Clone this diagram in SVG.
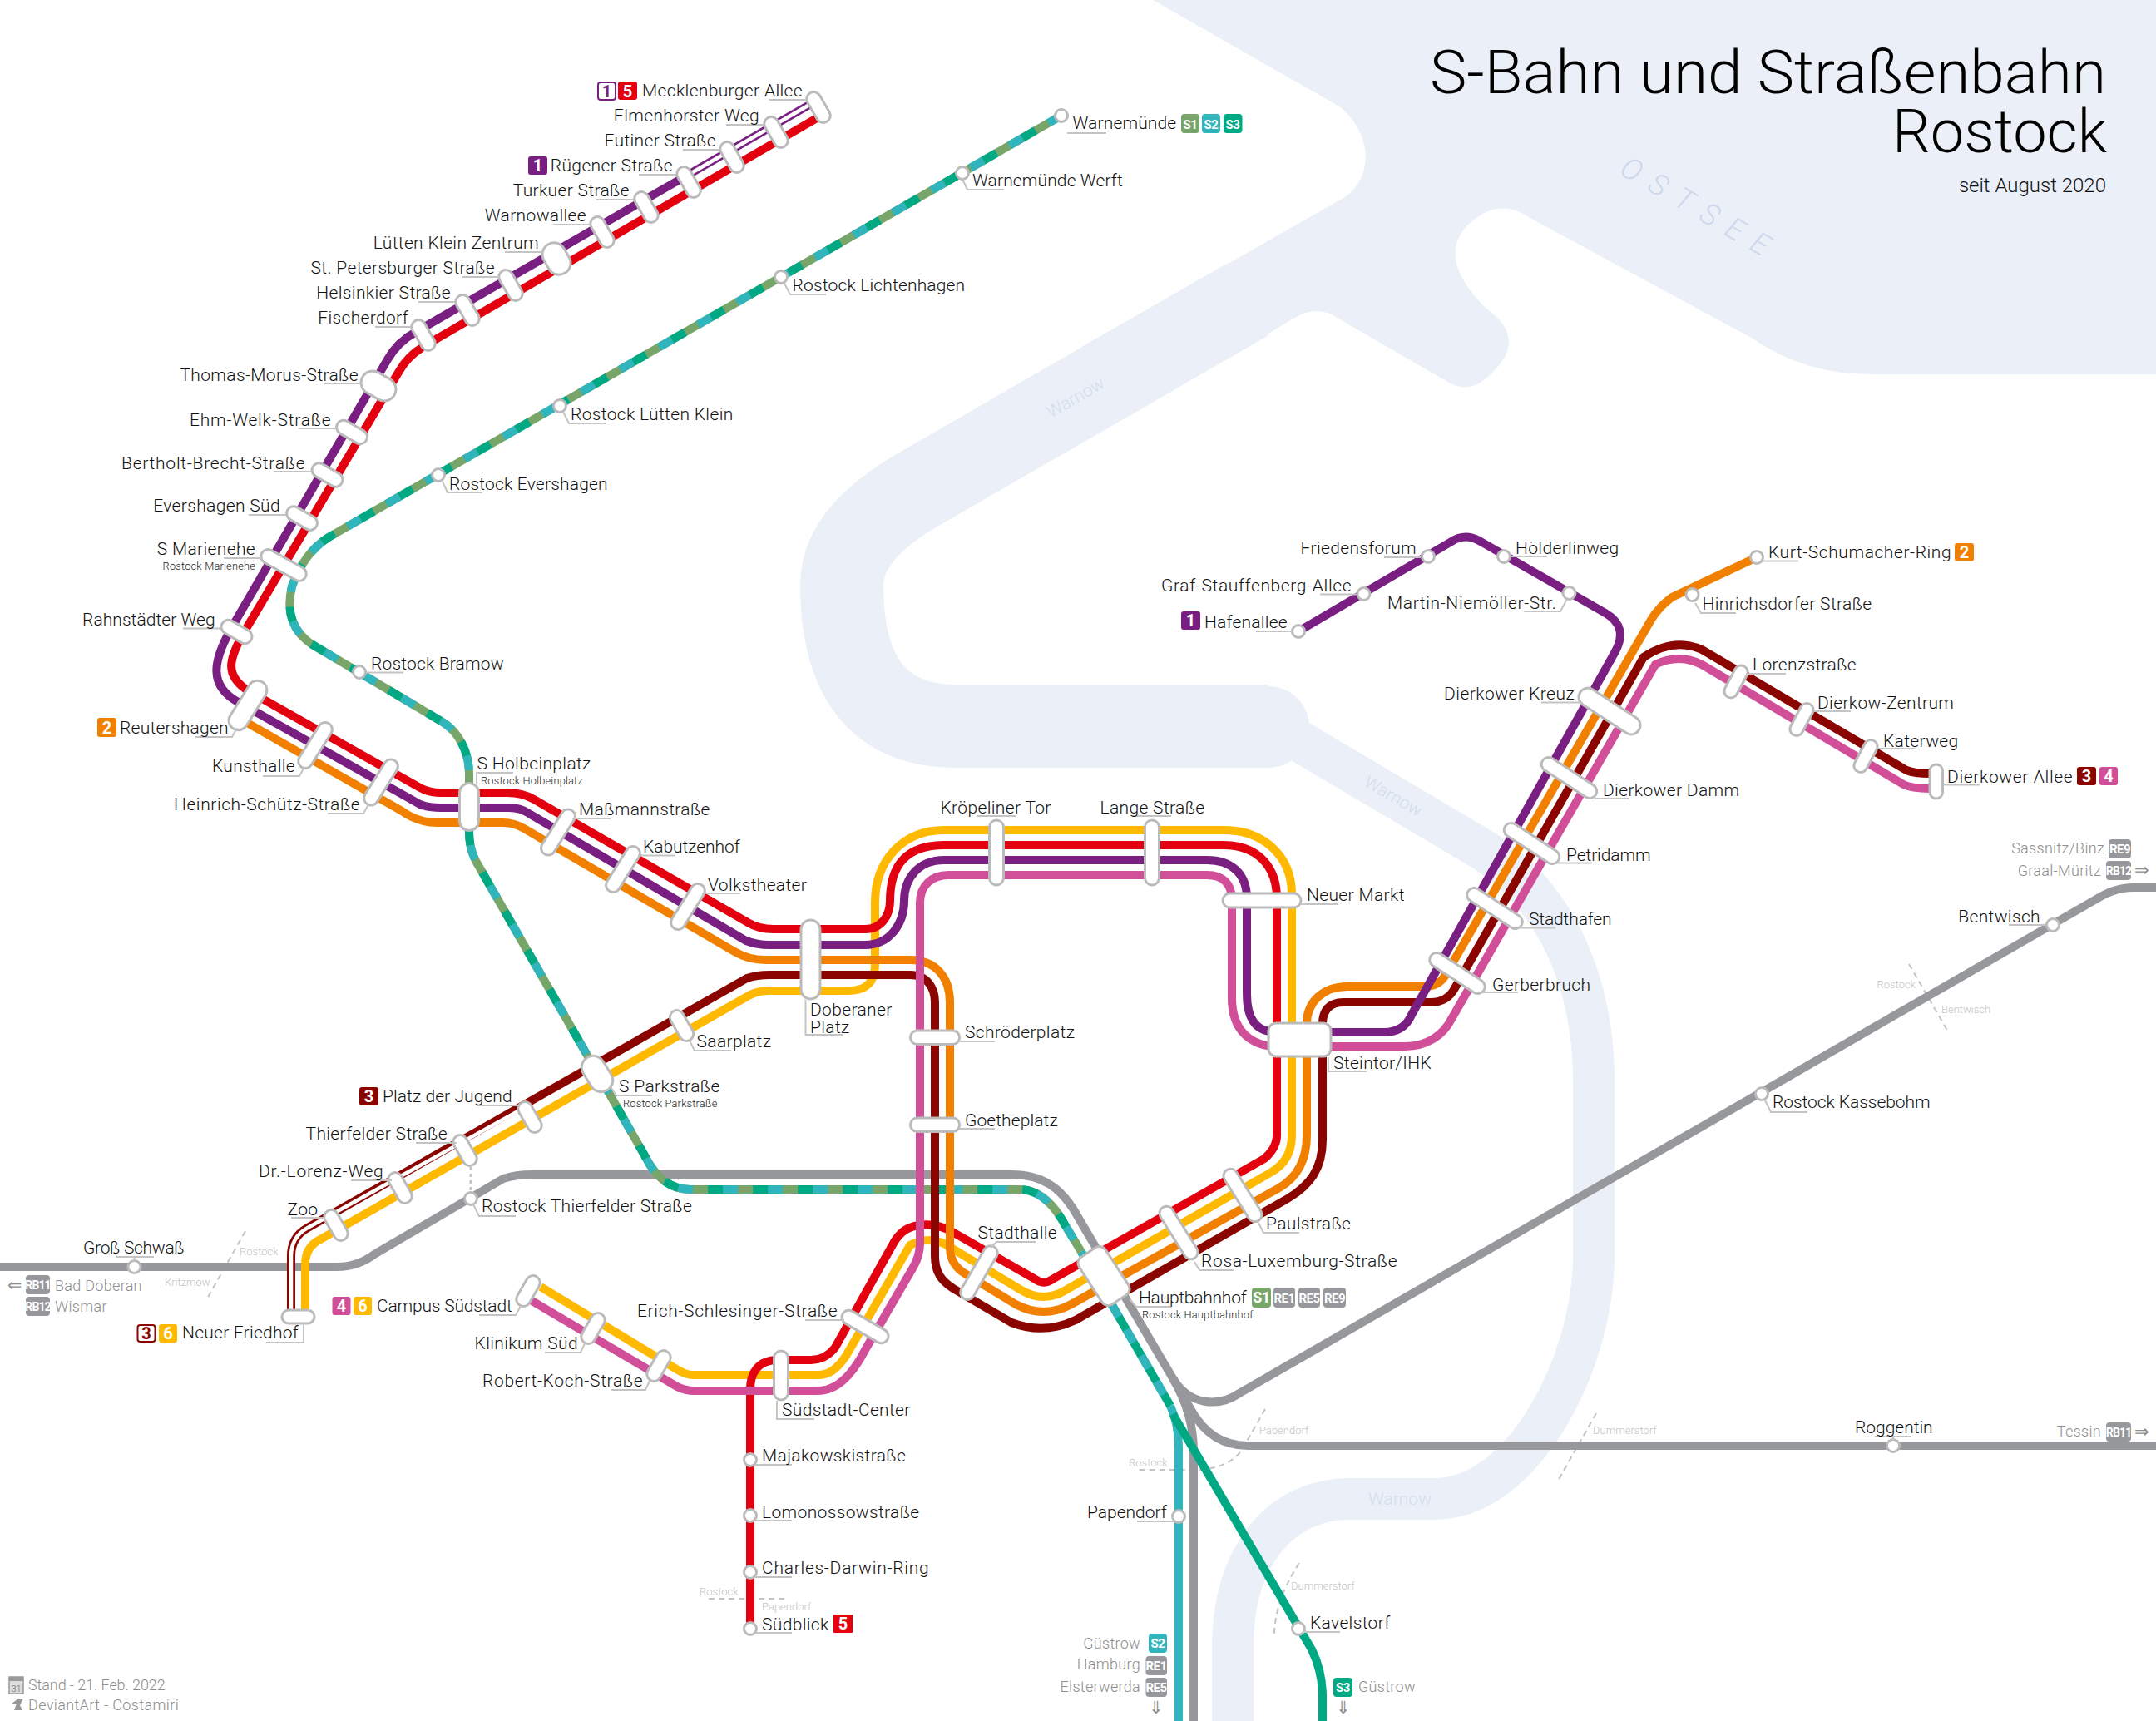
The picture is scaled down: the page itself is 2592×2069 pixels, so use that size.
<svg xmlns="http://www.w3.org/2000/svg" width="2592" height="2069" viewBox="0 0 2592 2069">
<style>
text{font-family:Roboto,"Liberation Sans",sans-serif;font-weight:300}
.t{font-size:21px;fill:#111;letter-spacing:.35px}
.e{text-anchor:end}
.r{font-size:12.8px;fill:#222;letter-spacing:.2px}
.d{font-size:18px;fill:#8d8d8d;letter-spacing:.3px}
.h{font-size:13px;fill:#c4c4c4}
.b{font-size:20px;font-weight:700;fill:#fff;text-anchor:middle}
.bs{font-size:15px;font-weight:700;fill:#fff;text-anchor:middle;letter-spacing:-.5px}
.rb{font-size:14px;letter-spacing:-.9px}
.w{fill:#d3dcee;font-size:21px}
.a{font-family:"DejaVu Sans",sans-serif;font-size:21px;fill:#8d8d8d;text-anchor:middle}
.s{fill:#fff;stroke:#bbb;stroke-width:3}
.c{fill:#fff;stroke:#bbb;stroke-width:3}
.l{fill:none;stroke:#c4c4c4;stroke-width:2}
.li{fill:none;stroke-width:10}
.bd{fill:none;stroke:#c4c4c4;stroke-width:2;stroke-dasharray:7 5}
.gr{stroke:#97989c}.s1{stroke:#78a66a}.s2{stroke:#2fb5bb}.s3{stroke:#00a984}
.ye{stroke:#ffb900}.re{stroke:#e3000f}.or{stroke:#f28000}.dk{stroke:#8b0500}.pu{stroke:#7a1f82}.pk{stroke:#d14e99}
.fpu{fill:#7a1f82}.fre{fill:#e3000f}.for{fill:#f28000}.fdk{fill:#8b0500}.fye{fill:#ffb900}.fpk{fill:#d14e99}.fgr{fill:#97989c}.fs1{fill:#78a66a}.fs2{fill:#2fb5bb}.fs3{fill:#00a984}
</style>
<rect width="2592" height="2069" fill="#fff"/>
<g id="water">
<path fill="#ebf0f8" d="M1386,0 L1610,128 C1650,160 1652,212 1617,237 L1300,417 L1358,500 L1555,383 Q1584,365 1609,383 L1737,457 Q1765,476 1790,452 C1825,420 1820,395 1786,370 C1745,330 1735,290 1775,262 Q1805,240 1836,260 L2107,407 Q2170,450 2247,450 L2592,450 L2592,0 Z"/>
<path fill="none" stroke="#ebf0f8" stroke-width="100" d="M1500,360 L1110,585 Q1012,640 1012,703 Q1012,873 1150,873 L1525,873"/>
<circle cx="1525" cy="874" r="49" fill="#ebf0f8"/>
<path fill="none" stroke="#ebf0f8" stroke-width="50" d="M1540,878 L1780,1020 C1870,1075 1916,1180 1916,1300 L1916,1510 C1916,1640 1830,1802 1725,1802 L1623,1802 C1540,1802 1482,1870 1482,1980 L1482,2069"/>
<text class="w" transform="translate(1293,478) rotate(-30)" text-anchor="middle" dy="7">Warnow</text>
<text class="w" transform="translate(1675,957) rotate(30)" text-anchor="middle" dy="7">Warnow</text>
<text class="w" x="1683" y="1809" text-anchor="middle">Warnow</text>
<text transform="translate(2045,251) rotate(30)" text-anchor="middle" dy="13" style="font-size:36px;fill:#cdd8ec;letter-spacing:15px;font-style:italic">OSTSEE</text>
</g>
<g id="borders">
<path class="bd" d="M295,1480 L248,1563"/>
<path class="bd" d="M852,1922 L948,1922"/>
<path class="bd" d="M2295,1159 L2343,1242"/>
<path class="bd" d="M1521,1694 L1493,1743 Q1478,1765 1440,1767 L1368,1767"/>
<path class="bd" d="M1919,1699 L1872,1782"/>
<path class="bd" d="M1562,1879 Q1532,1925 1532,1967"/>
<text class="h" x="288" y="1509">Rostock</text>
<text class="h" x="198" y="1546">Kritzmow</text>
<text class="h" x="841" y="1918">Rostock</text>
<text class="h" x="916" y="1936">Papendorf</text>
<text class="h" x="2303" y="1188" text-anchor="end">Rostock</text>
<text class="h" x="2334" y="1218">Bentwisch</text>
<text class="h" x="1514" y="1724">Papendorf</text>
<text class="h" x="1357" y="1763">Rostock</text>
<text class="h" x="1915" y="1724">Dummerstorf</text>
<text class="h" x="1552" y="1911">Dummerstorf</text>
</g>
<g id="connectors">
<g id="regional">
<path class="li gr" d="M0,1523 L405,1523 Q430,1523 450,1508 L605,1417 Q620,1412 640,1412 L1216,1412 C1255,1412 1275,1430 1290,1453 L1410,1657"/>
<path class="li gr" d="M1410,1657 C1430,1690 1465,1692 1490,1675 L2527,1077 Q2545,1067 2565,1067 L2592,1067"/>
<path class="li gr" d="M1410,1657 L1432,1695 Q1456,1738 1500,1738 L2592,1738"/>
<path class="li gr" d="M1410,1657 Q1435,1700 1435,1745 L1435,2069"/>
</g>
<g id="sbahn">
<path class="li s2" d="M1407,1690 Q1417,1712 1417,1740 L1417,2069"/>
<path class="li s3" d="M1410,1700 L1577,1983 Q1590,2010 1590,2040 L1590,2069"/>
<path class="li s3" d="M1300,1505 L1407,1690"/>
<path class="li s2" stroke-dasharray="18 18" d="M1300,1505 L1407,1690"/>
<path class="li s1" d="M1276,139 L395,646 Q365,665 351,705 Q340,750 374,774 L532,868 C552,880 564,905 564,930 L564,1000 Q564,1020 572,1035 L775,1389 Q795,1430 830,1430 L1226,1430 C1250,1430 1268,1450 1280,1472 L1300,1505"/>
<path class="li s2" stroke-dasharray="18 36" d="M1276,139 L395,646 Q365,665 351,705 Q340,750 374,774 L532,868 C552,880 564,905 564,930 L564,1000 Q564,1020 572,1035 L775,1389 Q795,1430 830,1430 L1226,1430 C1250,1430 1268,1450 1280,1472 L1300,1505"/>
<path class="li s3" stroke-dasharray="18 36" stroke-dashoffset="18" d="M1276,139 L395,646 Q365,665 351,705 Q340,750 374,774 L532,868 C552,880 564,905 564,930 L564,1000 Q564,1020 572,1035 L775,1389 Q795,1430 830,1430 L1226,1430 C1250,1430 1268,1450 1280,1472 L1300,1505"/>
</g>
<g id="tram">
<path id="line6" class="li ye" d="M367,1575 L367,1520 Q367,1499 385,1490 L902,1196 Q912,1191 925,1191 L1020,1191 Q1052,1191 1052,1160 L1052,1085 C1052,1035 1085,998 1135,998 L1471,998 C1520,998 1553,1030 1553,1075 L1553,1365 C1553,1385 1545,1400 1527,1410 L1283,1550 Q1255,1568 1226,1550 L1135,1495 Q1115,1486 1094,1497 L1017,1630 C1005,1648 995,1653 983,1653 L833,1653 Q825,1653 815,1647 L650,1547"/>
<path id="line5" class="li re" d="M982,142 L510,416 Q490,428 480,446 L297,754 C272,795 272,812 296,829 L505,947 Q516,953 530,953 L610,953 Q628,953 642,961 L899,1109 Q912,1117 930,1117 L1040,1117 C1060,1117 1070,1100 1070,1083 C1070,1040 1090,1016 1135,1016 L1471,1016 C1510,1016 1535,1040 1535,1080 L1535,1365 Q1535,1380 1520,1393 L1267,1537 Q1255,1546 1243,1537 L1145,1481 Q1125,1470 1105,1473 C1090,1475 1082,1482 1075,1493 L1004,1620 Q992,1635 975,1635 L935,1635 C912,1635 902,1650 902,1670 L902,1958"/>
<path id="line3" class="li dk" d="M350,1575 L350,1510 Q350,1487 370,1476 L898,1176 Q910,1172 925,1172 L1094,1172 C1115,1172 1124,1188 1124,1205 L1124,1510 C1124,1530 1132,1540 1146,1549 L1216,1590 Q1255,1605 1293,1587 L1548,1441 C1575,1425 1590,1405 1590,1370 L1590,1231 C1590,1215 1598,1205 1615,1205 L1720,1205 Q1740,1205 1749,1188 L1976,790 Q2012,766 2046,781 L2292,926 Q2302,930 2320,930"/>
<path id="line2" class="li or" d="M299,870 L483,975 Q503,989 525,989 L605,989 Q618,989 630,996 L883,1144 Q900,1154 920,1154 L1094,1154 C1125,1154 1142,1175 1142,1205 L1142,1500 Q1142,1520 1160,1531 L1221,1568 Q1255,1586 1288,1568 L1538,1428 C1560,1415 1571,1395 1571,1365 L1571,1231 C1571,1205 1590,1186 1620,1186 L1712,1186 Q1730,1186 1738,1172 L1985,745 Q1994,730 2010,718 L2112,670"/>
<path id="line4" class="li pk" d="M638,1563 L814,1667 Q824,1672 835,1672 L983,1672 Q1015,1672 1040,1623 L1097,1525 Q1106,1510 1106,1495 L1106,1085 C1106,1065 1120,1052 1140,1052 L1451,1052 C1470,1052 1481,1062 1481,1082 L1481,1200 C1481,1240 1505,1258 1535,1258 L1689,1258 C1715,1258 1735,1245 1745,1225 L1990,799 Q2018,785 2046,799 L2285,941 Q2295,948 2320,948"/>
<path id="line1" class="li pu" d="M973,126 L500,399 Q478,411 466,432 L280,752 C255,795 250,825 288,845 L505,967 Q515,971 530,971 L612,971 Q626,971 636,978 L897,1131 Q910,1136 925,1136 L1040,1136 C1070,1136 1087,1110 1087,1083 C1087,1055 1105,1034 1135,1034 L1451,1034 C1480,1034 1499,1050 1499,1080 L1499,1195 C1499,1225 1510,1241 1535,1241 L1664,1241 Q1688,1241 1697,1220 L1941,785 Q1959,754 1930,737 L1780,651 Q1762,640 1745,651 L1561,759"/>
<path stroke="#fff" stroke-width="4.5" fill="none" d="M973,126 L819,215"/>
<path stroke="#fff" stroke-width="4.5" fill="none" d="M350,1575 L350,1510 Q350,1487 370,1476 L628,1333"/>
</g>
<path id="link-thierfelder" fill="none" stroke="#c4c4c4" stroke-width="3" stroke-dasharray="4 4" d="M566,1403 L566,1432"/>
</g>
<g id="mecklenburger-allee"><rect class="s" x="-20" y="-8.5" width="40" height="17" rx="8.5" transform="translate(984 129) rotate(60)"/><path class="l" d="M925,120 H971"/><rect x="719" y="99" width="21" height="21" rx="3" fill="#fff" stroke="#7a1f82" stroke-width="2"/><text class="b" x="729.5" y="116.500" style="fill:#7a1f82">1</text><rect x="743" y="98" width="23" height="22" rx="3" class="fre"/><text class="b" x="754.5" y="116.500">5</text><text class="t e" x="965" y="116">Mecklenburger Allee</text></g>
<g id="elmenhorster-weg"><rect class="s" x="-20" y="-8.5" width="40" height="17" rx="8.5" transform="translate(933 159) rotate(60)"/><path class="l" d="M873,150 H918"/><text class="t e" x="913" y="146">Elmenhorster Weg</text></g>
<g id="eutiner-strasse"><rect class="s" x="-20" y="-8.5" width="40" height="17" rx="8.5" transform="translate(880 189) rotate(60)"/><path class="l" d="M821,180 H865"/><text class="t e" x="861" y="176">Eutiner Straße</text></g>
<g id="ruegener-strasse"><rect class="s" x="-20" y="-8.5" width="40" height="17" rx="8.5" transform="translate(828 219) rotate(60)"/><path class="l" d="M768,210 H813"/><rect x="635" y="188" width="23" height="22" rx="3" class="fpu"/><text class="b" x="646.5" y="206">1</text><text class="t e" x="809" y="206">Rügener Straße</text></g>
<g id="turkuer-strasse"><rect class="s" x="-20" y="-8.5" width="40" height="17" rx="8.5" transform="translate(777 249) rotate(60)"/><path class="l" d="M717,240 H762"/><text class="t e" x="757" y="236">Turkuer Straße</text></g>
<g id="warnowallee"><rect class="s" x="-20" y="-8.5" width="40" height="17" rx="8.5" transform="translate(724 279) rotate(60)"/><path class="l" d="M665,270 H710"/><text class="t e" x="705" y="266">Warnowallee</text></g>
<g id="luetten-klein-zentrum"><rect class="s" x="-20" y="-14" width="40" height="28" rx="14" transform="translate(669 311) rotate(60)"/><path class="l" d="M607,303 H653"/><text class="t e" x="648" y="299">Lütten Klein Zentrum</text></g>
<g id="st-petersburger-strasse"><rect class="s" x="-20" y="-8.5" width="40" height="17" rx="8.5" transform="translate(614 343) rotate(60)"/><path class="l" d="M555,333 H600"/><text class="t e" x="595" y="329">St. Petersburger Straße</text></g>
<g id="helsinkier-strasse"><rect class="s" x="-20" y="-8.5" width="40" height="17" rx="8.5" transform="translate(562 373) rotate(60)"/><path class="l" d="M503,363 H547"/><text class="t e" x="542" y="359">Helsinkier Straße</text></g>
<g id="fischerdorf"><rect class="s" x="-20" y="-8.5" width="40" height="17" rx="8.5" transform="translate(509 403) rotate(60)"/><path class="l" d="M451,393 H495"/><text class="t e" x="491" y="389">Fischerdorf</text></g>
<g id="thomas-morus-strasse"><rect class="s" x="-22" y="-14" width="44" height="28" rx="14" transform="translate(455 464) rotate(30)"/><path class="l" d="M390,461 H435"/><text class="t e" x="431" y="458">Thomas-Morus-Straße</text></g>
<g id="ehm-welk-strasse"><rect class="s" x="-20" y="-8.5" width="40" height="17" rx="8.5" transform="translate(423 519.500) rotate(30)"/><path class="l" d="M359,515 H404"/><text class="t" x="228" y="512" textLength="170">Ehm-Welk-Straße</text></g>
<g id="bertholt-brecht-strasse"><rect class="s" x="-20" y="-8.5" width="40" height="17" rx="8.5" transform="translate(393.500 571) rotate(30)"/><path class="l" d="M329,567 H374"/><text class="t" x="146" y="563.500" textLength="221">Bertholt-Brecht-Straße</text></g>
<g id="evershagen-sued"><rect class="s" x="-20" y="-8.5" width="40" height="17" rx="8.5" transform="translate(363 623) rotate(30)"/><path class="l" d="M299,619 H344"/><text class="t e" x="337" y="615">Evershagen Süd</text></g>
<g id="s-marienehe"><rect class="s" x="-30" y="-8.5" width="60" height="17" rx="8.5" transform="translate(341 679.500) rotate(29)"/><path class="l" d="M269,671 H316"/><text class="t e" x="307" y="667">S Marienehe</text><text class="r e" x="307" y="685">Rostock Marienehe</text></g>
<g id="rahnstaedter-weg"><rect class="s" x="-20" y="-8.5" width="40" height="17" rx="8.5" transform="translate(284.500 759.500) rotate(30)"/><path class="l" d="M220,755.500 H265"/><text class="t" x="99" y="752" textLength="160">Rahnstädter Weg</text></g>
<g id="reutershagen"><rect class="s" x="-33" y="-11.500" width="66" height="23" rx="11.500" transform="translate(298 848) rotate(-58)"/><path class="l" d="M235,886 H279 L285,875"/><rect x="117" y="863" width="23" height="23" rx="3" class="for"/><text class="b" x="128.500" y="881.500">2</text><text class="t" x="144" y="882" textLength="131">Reutershagen</text></g>
<g id="kunsthalle"><rect class="s" x="-31" y="-8.5" width="62" height="17" rx="8.5" transform="translate(379 896) rotate(-58)"/><path class="l" d="M316,933 H360 L366,922"/><text class="t e" x="355" y="928">Kunsthalle</text></g>
<g id="heinrich-schuetz-strasse"><rect class="s" x="-31" y="-8.5" width="62" height="17" rx="8.5" transform="translate(458 940.500) rotate(-58)"/><path class="l" d="M394,978 H437 L443,967"/><text class="t" x="209" y="974" textLength="224">Heinrich-Schütz-Straße</text></g>
<g id="s-holbeinplatz"><rect class="s" x="-11.500" y="-28.500" width="23" height="57" rx="11.500" transform="translate(564 970)"/><path class="l" d="M617,929 H573 V942"/><text class="t" x="573.500" y="925">S Holbeinplatz</text><text class="r" x="578" y="943">Rostock Holbeinplatz</text></g>
<g id="massmannstrasse"><rect class="s" x="-31" y="-8.5" width="62" height="17" rx="8.5" transform="translate(671 1000.500) rotate(-58)"/><path class="l" d="M734,984 H688"/><text class="t" x="696" y="980">Maßmannstraße</text></g>
<g id="kabutzenhof"><rect class="s" x="-31" y="-8.5" width="62" height="17" rx="8.5" transform="translate(749 1045) rotate(-58)"/><path class="l" d="M812,1028.500 H767"/><text class="t" x="773" y="1025" textLength="117">Kabutzenhof</text></g>
<g id="volkstheater"><rect class="s" x="-31" y="-8.5" width="62" height="17" rx="8.5" transform="translate(827 1090) rotate(-58)"/><path class="l" d="M890,1074 H844"/><text class="t" x="851" y="1070.500">Volkstheater</text></g>
<g id="doberaner-platz"><rect class="s" x="963" y="1106" width="23" height="95" rx="11.500"/><path class="l" d="M968.500,1202 V1244 H1013"/><text class="t" x="974" y="1220.500">Doberaner</text><text class="t" x="974" y="1241.500">Platz</text></g>
<g id="saarplatz"><rect class="s" x="-20" y="-8.5" width="40" height="17" rx="8.5" transform="translate(819.500 1233) rotate(60)"/><path class="l" d="M879,1263 H835 L829,1251"/><text class="t" x="837.500" y="1259">Saarplatz</text></g>
<g id="s-parkstrasse"><rect class="s" x="-23" y="-14" width="46" height="28" rx="14" transform="translate(718 1291) rotate(58)"/><path class="l" d="M784,1317 H741 L733,1305"/><text class="t" x="744" y="1313">S Parkstraße</text><text class="r" x="749" y="1331">Rostock Parkstraße</text></g>
<g id="platz-der-jugend"><rect class="s" x="-20" y="-8.5" width="40" height="17" rx="8.5" transform="translate(637 1343) rotate(60)"/><path class="l" d="M573,1329 H623"/><rect x="432" y="1307" width="23" height="22" rx="3" class="fdk"/><text class="b" x="443.500" y="1325">3</text><text class="t" x="460" y="1325" textLength="156">Platz der Jugend</text></g>
<g id="thierfelder-strasse"><rect class="s" x="-20" y="-8.5" width="40" height="17" rx="8.5" transform="translate(559 1383) rotate(60)"/><path class="l" d="M500,1374 H549"/><text class="t e" x="538" y="1370">Thierfelder Straße</text></g>
<g id="dr-lorenz-weg"><rect class="s" x="-20" y="-8.5" width="40" height="17" rx="8.5" transform="translate(481 1428) rotate(60)"/><path class="l" d="M422,1419 H471"/><text class="t" x="311" y="1415" textLength="150">Dr.-Lorenz-Weg</text></g>
<g id="zoo"><rect class="s" x="-20" y="-8.5" width="40" height="17" rx="8.5" transform="translate(404 1473) rotate(60)"/><path class="l" d="M350,1464 H391"/><text class="t e" x="382.500" y="1461">Zoo</text></g>
<g id="neuer-friedhof"><rect class="s" x="339" y="1575" width="39" height="16" rx="8"/><path class="l" d="M320,1614 H365 V1591"/><rect x="165.500" y="1593" width="21" height="20" rx="3" fill="#fff" stroke="#8b0500" stroke-width="2"/><text class="b" x="176" y="1610" style="fill:#8b0500">3</text><rect x="191" y="1592" width="22" height="22" rx="3" class="fye"/><text class="b" x="202" y="1610">6</text><text class="t" x="219" y="1609" textLength="140">Neuer Friedhof</text></g>
<g id="campus-suedstadt"><rect class="s" x="-20" y="-8.5" width="40" height="17" rx="8.5" transform="translate(635 1552) rotate(-60)"/><path class="l" d="M576,1581 H620 L626,1570"/><rect x="399.500" y="1559" width="22" height="22" rx="3" class="fpk"/><text class="b" x="410.500" y="1577">4</text><rect x="425" y="1559" width="22" height="22" rx="3" class="fye"/><text class="b" x="436" y="1577">6</text><text class="t" x="453" y="1577" textLength="163">Campus Südstadt</text></g>
<g id="klinikum-sued"><rect class="s" x="-20" y="-8.5" width="40" height="17" rx="8.5" transform="translate(713 1597) rotate(-60)"/><path class="l" d="M655,1626 H698 L703,1615"/><text class="t e" x="695" y="1622">Klinikum Süd</text></g>
<g id="robert-koch-strasse"><rect class="s" x="-20" y="-8.5" width="40" height="17" rx="8.5" transform="translate(792 1642) rotate(-60)"/><path class="l" d="M734,1671 H776 L781,1660"/><text class="t" x="580" y="1667" textLength="193">Robert-Koch-Straße</text></g>
<g id="erich-schlesinger-strasse"><rect class="s" x="-31" y="-8.5" width="62" height="17" rx="8.5" transform="translate(1040 1595) rotate(30)"/><path class="l" d="M968,1587 H1015"/><text class="t" x="766" y="1582.500" textLength="241">Erich-Schlesinger-Straße</text></g>
<g id="suedstadt-center"><rect class="s" x="930.500" y="1624" width="17" height="59" rx="8.500"/><path class="l" d="M934,1684 V1706 H979"/><text class="t" x="940" y="1701.500">Südstadt-Center</text></g>
<g id="majakowskistrasse"><circle class="c" cx="902" cy="1755" r="7.500"/><path class="l" d="M908,1761 H952"/><text class="t" x="916" y="1757">Majakowskistraße</text></g>
<g id="lomonossowstrasse"><circle class="c" cx="902" cy="1822" r="7.500"/><path class="l" d="M908,1828 H952"/><text class="t" x="916" y="1825">Lomonossowstraße</text></g>
<g id="charles-darwin-ring"><circle class="c" cx="902" cy="1890" r="7.500"/><path class="l" d="M908,1896 H952"/><text class="t" x="916" y="1892" textLength="201">Charles-Darwin-Ring</text></g>
<g id="suedblick"><circle class="c" cx="902" cy="1958" r="7.500"/><path class="l" d="M908,1963 H952"/><text class="t" x="916" y="1960">Südblick</text><rect x="1002" y="1941" width="23" height="22" rx="1" class="fre"/><text class="b" x="1013.500" y="1959">5</text></g>
<g id="kroepeliner-tor"><rect class="s" x="1189.500" y="986" width="17" height="78" rx="8.500"/><path class="l" d="M1174,981 H1221"/><text class="t" x="1130.500" y="978">Kröpeliner Tor</text></g>
<g id="lange-strasse"><rect class="s" x="1376.500" y="986" width="17" height="78" rx="8.500"/><path class="l" d="M1362,981 H1408"/><text class="t" x="1322.500" y="978">Lange Straße</text></g>
<g id="neuer-markt"><rect class="s" x="1470" y="1074" width="94" height="17" rx="8.500"/><path class="l" d="M1563,1087 H1608"/><text class="t" x="1571" y="1083">Neuer Markt</text></g>
<g id="schroederplatz"><rect class="s" x="1094.500" y="1239" width="59" height="16.500" rx="8"/><path class="l" d="M1153,1252 H1196"/><text class="t" x="1160" y="1248">Schröderplatz</text></g>
<g id="goetheplatz"><rect class="s" x="1094.500" y="1344" width="59" height="16.500" rx="8"/><path class="l" d="M1153,1357 H1196"/><text class="t" x="1160" y="1354" textLength="112">Goetheplatz</text></g>
<g id="stadthalle"><rect class="s" x="-36" y="-8.5" width="72" height="17" rx="8.5" transform="translate(1177 1530) rotate(-60)"/><path class="l" d="M1245,1493 H1198 L1191,1500"/><text class="t" x="1175.500" y="1489">Stadthalle</text></g>
<g id="hauptbahnhof"><rect class="s" x="-34" y="-19" width="68" height="38" rx="9" transform="translate(1327 1534) rotate(57)"/><path class="l" d="M1408,1571 H1366 L1358,1562"/><text class="t" x="1369" y="1567" textLength="130">Hauptbahnhof</text><text class="r" x="1373" y="1585">Rostock Hauptbahnhof</text><rect x="1505" y="1548" width="23" height="24" rx="4" class="fs1"/><text class="bs" x="1516.500" y="1566" style="font-size:18px">S1</text><rect x="1531" y="1548" width="26" height="24" rx="4" class="fgr"/><text class="bs" x="1544" y="1565.500">RE1</text><rect x="1561" y="1548" width="26" height="24" rx="4" class="fgr"/><text class="bs" x="1574" y="1565.500">RE5</text><rect x="1591" y="1548" width="27" height="24" rx="4" class="fgr"/><text class="bs" x="1604.500" y="1565.500">RE9</text></g>
<g id="rosa-luxemburg-strasse"><rect class="s" x="-36" y="-8.5" width="72" height="17" rx="8.5" transform="translate(1417 1482) rotate(58)"/><path class="l" d="M1484,1527 H1442 L1436,1517"/><text class="t" x="1444" y="1523" textLength="236">Rosa-Luxemburg-Straße</text></g>
<g id="paulstrasse"><rect class="s" x="-36" y="-8.5" width="72" height="17" rx="8.5" transform="translate(1494 1437) rotate(58)"/><path class="l" d="M1562,1482 H1519 L1513,1470"/><text class="t" x="1522" y="1478">Paulstraße</text></g>
<g id="steintor-ihk"><rect class="s" x="1525" y="1230" width="75" height="40" rx="9"/><path class="l" d="M1597,1271 V1288 H1643"/><text class="t" x="1603" y="1285">Steintor/IHK</text></g>
<g id="gerberbruch"><rect class="s" x="-38" y="-8.5" width="76" height="17" rx="8.5" transform="translate(1752 1170) rotate(33)"/><path class="l" d="M1780,1193 H1825"/><text class="t" x="1794" y="1190.500">Gerberbruch</text></g>
<g id="stadthafen"><rect class="s" x="-38" y="-8.5" width="76" height="17" rx="8.5" transform="translate(1797 1092) rotate(33)"/><path class="l" d="M1825,1115.500 H1870"/><text class="t" x="1838" y="1112" textLength="100">Stadthafen</text></g>
<g id="petridamm"><rect class="s" x="-38" y="-8.5" width="76" height="17" rx="8.5" transform="translate(1841.500 1014) rotate(33)"/><path class="l" d="M1870,1037.500 H1914"/><text class="t" x="1883" y="1035" textLength="102">Petridamm</text></g>
<g id="dierkower-damm"><rect class="s" x="-38" y="-8.5" width="76" height="17" rx="8.5" transform="translate(1886.500 935) rotate(33)"/><path class="l" d="M1917,960 H1959"/><text class="t" x="1927" y="957">Dierkower Damm</text></g>
<g id="dierkower-kreuz"><rect class="s" x="-42" y="-11" width="84" height="22" rx="11" transform="translate(1935 855) rotate(33)"/><path class="l" d="M1853,844.500 H1899"/><text class="t" x="1736" y="841" textLength="157">Dierkower Kreuz</text></g>
<g id="hafenallee"><circle class="c" cx="1561" cy="759" r="7.500"/><path class="l" d="M1510,759 H1555"/><rect x="1420" y="735" width="23" height="22" rx="3" class="fpu"/><text class="b" x="1431.500" y="753">1</text><text class="t" x="1448" y="755" textLength="100">Hafenallee</text></g>
<g id="graf-stauffenberg-allee"><circle class="c" cx="1639.500" cy="714" r="7.500"/><path class="l" d="M1587,714.500 H1632"/><text class="t" x="1396" y="710.500" textLength="229">Graf-Stauffenberg-Allee</text></g>
<g id="friedensforum"><circle class="c" cx="1717" cy="669" r="7.500"/><path class="l" d="M1664,670 H1708"/><text class="t e" x="1703" y="666">Friedensforum</text></g>
<g id="hoelderlinweg"><circle class="c" cx="1808" cy="669" r="7.500"/><path class="l" d="M1816,669 H1860"/><text class="t" x="1822" y="666">Hölderlinweg</text></g>
<g id="martin-niemoeller-str"><circle class="c" cx="1886.500" cy="713" r="7.500"/><path class="l" d="M1832,735 H1876 L1884,720"/><text class="t" x="1668" y="731.500" textLength="203">Martin-Niemöller-Str.</text></g>
<g id="kurt-schumacher-ring"><circle class="c" cx="2112" cy="670" r="7.500"/><path class="l" d="M2118,674.500 H2162"/><text class="t" x="2126" y="671" textLength="220">Kurt-Schumacher-Ring</text><rect x="2350" y="653" width="23" height="22" rx="3" class="for"/><text class="b" x="2361.500" y="671">2</text></g>
<g id="hinrichsdorfer-strasse"><circle class="c" cx="2034.500" cy="715" r="7.500"/><path class="l" d="M2087,737 H2045 L2038,725"/><text class="t" x="2046.500" y="733">Hinrichsdorfer Straße</text></g>
<g id="lorenzstrasse"><rect class="s" x="-21" y="-8" width="42" height="16" rx="8" transform="translate(2087 819.500) rotate(-62)"/><path class="l" d="M2102,810 H2147"/><text class="t" x="2107" y="806">Lorenzstraße</text></g>
<g id="dierkow-zentrum"><rect class="s" x="-21" y="-8" width="42" height="16" rx="8" transform="translate(2166 865) rotate(-62)"/><path class="l" d="M2181,855 H2225"/><text class="t" x="2185" y="852">Dierkow-Zentrum</text></g>
<g id="katerweg"><rect class="s" x="-21" y="-8" width="42" height="16" rx="8" transform="translate(2243 909) rotate(-62)"/><path class="l" d="M2257,900 H2303"/><text class="t" x="2264" y="897.500">Katerweg</text></g>
<g id="dierkower-allee"><rect class="s" x="2320" y="919" width="15.500" height="41" rx="7.700"/><path class="l" d="M2336,943.500 H2380"/><text class="t" x="2341" y="940.500" textLength="151">Dierkower Allee</text><rect x="2497" y="922" width="23" height="22" rx="3" class="fdk"/><text class="b" x="2508.500" y="940">3</text><rect x="2524" y="922" width="22" height="22" rx="3" class="fpk"/><text class="b" x="2535" y="940">4</text></g>
<g id="warnemuende"><circle class="c" cx="1276" cy="139" r="7.500"/><path class="l" d="M1283,160 H1330"/><text class="t" x="1289.500" y="155" textLength="125">Warnemünde</text><rect x="1420" y="137" width="22" height="23" rx="4" class="fs1"/><text class="bs" x="1431" y="154.500">S1</text><rect x="1445" y="137" width="22" height="23" rx="4" class="fs2"/><text class="bs" x="1456" y="154.500">S2</text><rect x="1471" y="137" width="22.500" height="23" rx="4" class="fs3"/><text class="bs" x="1482" y="154.500">S3</text></g>
<g id="warnemuende-werft"><circle class="c" cx="1157" cy="208" r="7.500"/><path class="l" d="M1163,228 H1207 M1163,228 L1157,215"/><text class="t" x="1169" y="224" textLength="181">Warnemünde Werft</text></g>
<g id="rostock-lichtenhagen"><circle class="c" cx="939" cy="333" r="7.500"/><path class="l" d="M993,354 H950 L942.500,340"/><text class="t" x="952.500" y="350" textLength="208">Rostock Lichtenhagen</text></g>
<g id="rostock-luetten-klein"><circle class="c" cx="673" cy="488" r="7.500"/><path class="l" d="M728,509 H684 L677,495"/><text class="t" x="686" y="505">Rostock Lütten Klein</text></g>
<g id="rostock-evershagen"><circle class="c" cx="527" cy="571" r="7.500"/><path class="l" d="M580,592 H538 L532,579"/><text class="t" x="540" y="588.500" textLength="191">Rostock Evershagen</text></g>
<g id="rostock-bramow"><circle class="c" cx="432" cy="808" r="7.500"/><path class="l" d="M485,808.500 H440"/><text class="t" x="446" y="805" textLength="160">Rostock Bramow</text></g>
<g id="rostock-thierfelder-strasse"><circle class="c" cx="566" cy="1441" r="7.500"/><path class="l" d="M620,1462 H576 L569,1448"/><text class="t" x="579" y="1457">Rostock Thierfelder Straße</text></g>
<g id="gross-schwass"><circle class="c" cx="161.500" cy="1523" r="7.500"/><path class="l" d="M139,1511 H185 M161.500,1511 V1516"/><text class="t" x="100" y="1507" textLength="122">Groß Schwaß</text></g>
<g id="bad-doberan-wismar"><text class="a" x="18" y="1552">⇐</text><rect x="31" y="1533" width="29" height="23" rx="4" class="fgr"/><text class="bs rb" x="45.500" y="1550">RB11</text><text class="d" x="66" y="1552">Bad Doberan</text><rect x="31" y="1559" width="29" height="23" rx="4" class="fgr"/><text class="bs rb" x="45.500" y="1576">RB12</text><text class="d" x="66" y="1577">Wismar</text></g>
<g id="papendorf"><circle class="c" cx="1417" cy="1823" r="7.500"/><path class="l" d="M1367,1829 H1412"/><text class="t" x="1307" y="1825" textLength="96">Papendorf</text></g>
<g id="kavelstorf"><circle class="c" cx="1561" cy="1958" r="7.500"/><path class="l" d="M1567,1962 H1611"/><text class="t" x="1575" y="1958">Kavelstorf</text></g>
<g id="rostock-kassebohm"><circle class="c" cx="2118" cy="1315" r="7.500"/><path class="l" d="M2173,1337 H2129 L2122,1323"/><text class="t" x="2131" y="1332" textLength="190">Rostock Kassebohm</text></g>
<g id="bentwisch"><circle class="c" cx="2468" cy="1112" r="7.500"/><path class="l" d="M2415,1112 H2460"/><text class="t e" x="2453" y="1109">Bentwisch</text></g>
<g id="roggentin"><circle class="c" cx="2276" cy="1738" r="7.500"/><path class="l" d="M2254,1727 H2298 M2276,1727 V1731"/><text class="t" x="2230" y="1723" textLength="94">Roggentin</text></g>
<g id="destinations">
<text class="d e" x="2530" y="1026">Sassnitz/Binz</text><rect x="2535" y="1009" width="27" height="23" rx="4" class="fgr"/><text class="bs" x="2548.500" y="1026">RE9</text>
<text class="d e" x="2526" y="1052.500">Graal-Müritz</text><rect x="2532" y="1035" width="30" height="23" rx="4" class="fgr"/><text class="bs rb" x="2547" y="1052">RB12</text><text class="a" x="2575" y="1053">⇒</text>
<text class="d e" x="2526" y="1727">Tessin</text><rect x="2532" y="1710" width="30" height="23" rx="4" class="fgr"/><text class="bs rb" x="2547" y="1727">RB11</text><text class="a" x="2575" y="1728">⇒</text>
<text class="d e" x="1371" y="1982">Güstrow</text><rect x="1381" y="1964" width="22" height="23" rx="4" class="fs2"/><text class="bs" x="1392" y="1981">S2</text>
<text class="d e" x="1371" y="2007">Hamburg</text><rect x="1377.500" y="1991" width="25.500" height="23" rx="4" class="fgr"/><text class="bs" x="1390" y="2008">RE1</text>
<text class="d e" x="1371" y="2034">Elsterwerda</text><rect x="1377.500" y="2017" width="25.500" height="23" rx="4" class="fgr"/><text class="bs" x="1390" y="2034">RE5</text>
<text class="a" x="1390" y="2060">⇓</text>
<rect x="1603" y="2017" width="23" height="23" rx="4" class="fs3"/><text class="bs" x="1614.500" y="2034">S3</text><text class="d" x="1633" y="2034">Güstrow</text>
<text class="a" x="1615" y="2060">⇓</text>
</g>
<g id="title">
<text x="1719" y="112" textLength="813" lengthAdjust="spacingAndGlyphs" style="font-size:72px;fill:#000">S-Bahn und Straßenbahn</text>
<text x="2275" y="183" textLength="258" lengthAdjust="spacingAndGlyphs" style="font-size:72px;fill:#000">Rostock</text>
<text x="2532" y="231" text-anchor="end" style="font-size:24px;fill:#111">seit August 2020</text>
</g>
<g id="credits">
<rect x="11" y="2016" width="17" height="20" fill="#ddd" stroke="#999" stroke-width="1.500"/><rect x="11" y="2016" width="17" height="5" fill="#999"/>
<text x="19.500" y="2034" text-anchor="middle" style="font-size:11px;fill:#666">31</text>
<text class="d" x="34" y="2032" textLength="165">Stand - 21. Feb. 2022</text>
<path d="M22,2042 H28 L24,2050 L27,2056 H17 L20,2048 H14 Z" fill="#999"/>
<text class="d" x="34" y="2056" textLength="181">DeviantArt - Costamiri</text>
</g>
</svg>
